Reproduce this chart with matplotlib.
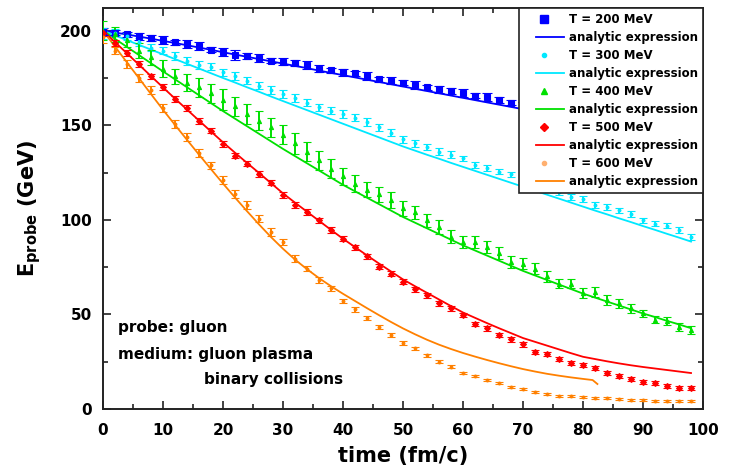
import matplotlib
matplotlib.use("Agg")
import matplotlib.pyplot as plt
from matplotlib.lines import Line2D
from matplotlib.legend_handler import HandlerLine2D
from matplotlib.ticker import MultipleLocator

plt.rcParams["font.family"] = ["DejaVu Sans"]
plt.rcParams["font.weight"] = "bold"
plt.rcParams["mathtext.default"] = "bf"

# simulation times (fm/c)
time = [0, 2, 4, 6, 8, 10, 12, 14, 16, 18, 20, 22, 24, 26, 28, 30, 32, 34, 36, 38,
        40, 42, 44, 46, 48, 50, 52, 54, 56, 58, 60, 62, 64, 66, 68, 70, 72, 74, 76, 78,
        80, 82, 84, 86, 88, 90, 92, 94, 96, 98]

temps = ["T = 200 MeV", "T = 300 MeV", "T = 400 MeV", "T = 500 MeV", "T = 600 MeV"]

# probe energy from the transport runs (GeV) and statistical errors
e_200 = [199.5, 199, 198, 197, 196, 195, 193.8, 193, 191.8, 190, 188.6, 187.2, 186.6, 185.6, 184.2,
         183.6, 183, 182, 180, 179, 178, 177.4, 176, 174.2, 173.6, 172.6, 171.4, 170, 169, 168,
         167, 165.7, 164.8, 163.4, 162, 160.8, 159.6, 158.4, 157.3, 156, 154.8, 153.5, 152.4,
         151.2, 150, 148.8, 147.6, 146.5, 145.3, 144.2]
err_200 = [2, 1.5, 1.5, 2, 1.5, 2, 1.5, 2, 2, 1.5, 2, 2.5, 1.5, 2, 1.5, 2, 1.5, 2, 2, 1.5,
           2, 1.5, 2, 1.5, 2, 1.5, 2, 1.5, 2, 1.5, 2, 1.5, 2, 1.5, 1.5, 1.5, 1.5, 1.5, 1.5, 1.5,
           1.5, 1.5, 1.5, 1.5, 1.5, 1.5, 1.5, 1.5, 1.5, 1.5]

e_300 = [198.5, 199, 197, 194, 191, 189.5, 186.5, 184, 182, 181, 178, 176, 173.6, 171, 168.7,
         166.6, 164.3, 162, 159.5, 157.8, 156, 154, 151.6, 149, 146, 142.5, 140.5, 138.5, 136,
         134.5, 132.5, 129, 127.5, 125.5, 124, 122, 119.5, 117, 114.5, 112, 111, 107.7, 106.8,
         105, 103, 99.7, 98, 97, 94.5, 90.8]
err_300 = [3, 2, 2, 2, 2, 2, 2, 2, 2, 2, 2, 2, 2, 2, 2, 2, 2, 2, 2, 2,
           2, 2, 2, 1.8, 1.8, 1.8, 1.8, 1.8, 1.8, 1.8, 1.5, 1.5, 1.5, 1.5, 1.5, 1.5, 1.5, 1.5,
           1.5, 1.5, 1.5, 1.5, 1.5, 1.5, 1.5, 1.5, 1.5, 1.5, 1.5, 1.5]

e_400 = [200, 198, 195, 189.5, 186, 180, 176, 172.5, 170, 167, 163.5, 160, 156, 152.5, 149,
         145, 140.5, 136, 131.5, 127, 123, 119, 116, 113.5, 110.5, 106, 104, 99.7, 96.2, 91,
         88.3, 88.3, 85.6, 82.5, 77.7, 76.9, 74.2, 70.2, 66.3, 66.3, 61.4, 61.9, 57.5, 55.8,
         53.2, 50.5, 47.3, 46.6, 43.4, 41.7]
err_400 = [5, 4, 3.5, 4, 4, 4.5, 4, 4.5, 5, 5, 5.5, 5, 5.5, 5, 5, 5, 5.5, 5, 5, 5,
           4.5, 4.5, 4, 4, 4, 4, 3.5, 3.5, 3.5, 3.5, 3, 3, 3, 3, 3, 3, 3, 3, 2.5, 2.5,
           2.5, 2.5, 2.5, 2.5, 2.5, 2, 2, 2, 2, 2]

e_500 = [199, 193.5, 188.3, 182.4, 175.8, 170.3, 164, 159.2, 152.1, 147.2, 140.2, 134, 129.7,
         124.4, 119.7, 113.2, 107.7, 104.1, 99.7, 94.5, 90.1, 85.6, 80.7, 75.3, 71.4, 67.3,
         63.2, 60.2, 55.8, 53.2, 49.6, 44.9, 42.6, 39, 36.8, 34.1, 30.2, 29, 26.4, 24.4, 23.2,
         21.5, 19.2, 17.4, 15.7, 14.4, 13.6, 12.1, 10.9, 10.9]
err_500 = [2, 1.5, 1.5, 1.5, 1.5, 1.5, 1.5, 1.5, 1.5, 1.5, 1.5, 1.5, 1.5, 1.5, 1.5, 1.5, 1.5,
           1.5, 1.5, 1.5, 1.3, 1.3, 1.3, 1.3, 1.3, 1.3, 1.3, 1.3, 1.3, 1.3, 1.2, 1.2, 1.2, 1.2,
           1.2, 1.2, 1.2, 1.2, 1.2, 1.2, 1, 1, 1, 1, 1, 1, 1, 1, 1, 1]

e_600 = [196.5, 189.5, 182.5, 175, 168.5, 159, 150.8, 143.7, 135.3, 128.8, 121, 113.8, 107.7,
         100.6, 93.6, 88.3, 79.5, 74.2, 68.1, 63.7, 57.2, 52.6, 47.9, 43.4, 39.1, 35, 32, 28.5,
         25, 22.3, 19.2, 17.4, 15.3, 13.9, 11.8, 10.4, 9.1, 7.8, 6.9, 6.9, 6.2, 5.6, 5.6, 5.3,
         4.7, 4.7, 4.4, 4.4, 4.2, 4.2]
err_600 = [3, 2, 2, 2, 2, 2, 2, 2, 2, 2, 2, 2, 2, 2, 2, 1.8, 1.8, 1.5, 1.5, 1.5,
           1.2, 1.2, 1, 1, 1, 1, 0.8, 0.8, 0.8, 0.8, 0.6, 0.6, 0.6, 0.6, 0.6, 0.5, 0.5, 0.5,
           0.5, 0.5, 0.5, 0.5, 0.5, 0.5, 0.5, 0.5, 0.5, 0.5, 0.5, 0.5]

# analytic expression evaluated on the same time grid
fit_200 = [200, 199, 198, 196.9, 195.8, 194.6, 193.5, 192.3, 191.1, 189.9, 188.6, 187.4, 186.2,
           185, 183.8, 182.6, 181.4, 180.2, 178.9, 177.7, 176.5, 175.3, 174.1, 172.9, 171.7,
           170.5, 169.3, 168.1, 166.9, 165.7, 164.5, 163.3, 162.1, 160.9, 159.7, 158.5, 157.3,
           156.1, 154.9, 153.7, 152.5, 151.3, 150.1, 148.9, 147.7, 146.6, 145.4, 144.2, 143, 141.8]
fit_300 = [200, 197.5, 195, 192.5, 190, 187.5, 185, 182.5, 180, 177.5, 175, 172.6, 170.1, 167.7,
           165.2, 162.8, 160.4, 158, 155.6, 153.2, 150.8, 148.4, 146, 143.6, 141.2, 138.8, 136.6,
           134.4, 132.3, 130.1, 128, 125.9, 123.8, 121.7, 119.6, 117.5, 115.4, 113.3, 111.2,
           109.1, 107, 104.9, 102.9, 100.8, 98.8, 96.7, 94.7, 92.6, 90.6, 88.5]
fit_400 = [200, 195.7, 191.4, 187.1, 182.8, 178.5, 174.3, 170.1, 165.9, 161.7, 157.5, 153.5,
           149.5, 145.5, 141.5, 137.5, 133.7, 129.9, 126.1, 122.3, 118.5, 115.1, 111.7, 108.3,
           104.9, 101.5, 98.5, 95.5, 92.5, 89.5, 86.5, 83.8, 81.1, 78.4, 75.7, 73, 70.6, 68.2,
           65.8, 63.4, 61, 58.9, 56.8, 54.7, 52.6, 50.5, 48.6, 46.6, 44.7, 42.7]
fit_500 = [200, 194, 188, 182, 176, 170, 164.1, 158.3, 152.5, 146.7, 141, 135.5, 130.1, 124.8,
           119.4, 114, 109.1, 104.3, 99.5, 94.7, 90, 85.6, 81.2, 76.9, 72.7, 68.5, 64.9, 61.4,
           57.9, 54.4, 51, 48.2, 45.4, 42.7, 40.1, 37.5, 35.5, 33.5, 31.5, 29.5, 27.6, 26.4,
           25.2, 24.1, 23.1, 22.2, 21.4, 20.6, 19.8, 19]
# the T = 600 MeV expression stops being valid near 82 fm/c
time_600_fit = [0, 2, 4, 6, 8, 10, 12, 14, 16, 18, 20, 22, 24, 26, 28, 30, 32, 34, 36, 38,
                40, 42, 44, 46, 48, 50, 52, 54, 56, 58, 60, 62, 64, 66, 68, 70, 72, 74, 76, 78,
                80, 81.6, 82.4]
fit_600 = [200, 191.6, 183.2, 174.9, 166.5, 158.2, 150.2, 142.3, 134.5, 126.8, 119.2, 111.8,
           104.6, 97.6, 90.9, 84.7, 79, 73.9, 69.2, 64.9, 60.9, 57.1, 53.3, 49.6, 46, 42.6,
           39.5, 36.6, 34, 31.7, 29.6, 27.7, 25.9, 24.2, 22.6, 21.1, 19.8, 18.6, 17.6, 16.7,
           15.9, 15.3, 13.2]

colors = ["#0000ff", "#00e8ff", "#00e000", "#ff0000", "#ff8000"]
legend_marker_colors = ["#0000ff", "#00e8ff", "#00e000", "#ff0000", "#ffb070"]
markers = ["s", "o", "^", "D", "o"]
marker_sizes = [5, 2, 3, 3, 2]
cap_sizes = [3.5, 3, 3, 3, 3]

data = [e_200, e_300, e_400, e_500, e_600]
errors = [err_200, err_300, err_400, err_500, err_600]
fit_times = [time, time, time, time, time_600_fit]
fits = [fit_200, fit_300, fit_400, fit_500, fit_600]


class PointHandler(HandlerLine2D):
    # point symbol sits at the left end of the legend sample
    def get_xdata(self, legend, xdescent, ydescent, width, height, fontsize):
        xdata = [-xdescent, -xdescent + width]
        return xdata, [-xdescent + 0.08 * width]


class SampleLineHandler(HandlerLine2D):
    # line sample occupies only the right part of the handle box
    def get_xdata(self, legend, xdescent, ydescent, width, height, fontsize):
        xdata = [-xdescent + 0.3 * width, -xdescent + width]
        return xdata, [-xdescent + 0.65 * width]


fig = plt.figure(figsize=(7.34, 4.76), dpi=100)
ax = fig.add_axes([0.1403, 0.1408, 0.8175, 0.8424])

for i in range(5):
    ax.errorbar(time, data[i], yerr=errors[i], fmt=markers[i], color=colors[i],
                markersize=marker_sizes[i], elinewidth=1.4, capsize=cap_sizes[i],
                capthick=1.4, markeredgewidth=0.8, zorder=3)
    ax.plot(fit_times[i], fits[i], color=colors[i], lw=1.3, zorder=2)

handles, labels, handler_map = [], [], {}
for i in range(5):
    point = Line2D([], [], ls="none", marker=markers[i], color=legend_marker_colors[i],
                   markersize=marker_sizes[i] + 1)
    handles.append(point)
    handler_map[point] = PointHandler()
    labels.append(temps[i])
    line = Line2D([], [], color=colors[i], lw=1.3)
    handles.append(line)
    handler_map[line] = SampleLineHandler()
    labels.append("analytic expression")

leg = ax.legend(handles, labels, handler_map=handler_map, loc="upper right",
                borderaxespad=0, fancybox=False, framealpha=1, edgecolor="#222222",
                fontsize=8.5, handlelength=3.4, handletextpad=0.4, labelspacing=0.42,
                borderpad=0.45, numpoints=1)
leg.get_frame().set_linewidth(1.2)
leg.set_zorder(5)

ax.set_xlim(0, 100)
ax.set_ylim(0, 212)
ax.xaxis.set_major_locator(MultipleLocator(10))
ax.xaxis.set_minor_locator(MultipleLocator(5))
ax.yaxis.set_major_locator(MultipleLocator(50))
ax.yaxis.set_minor_locator(MultipleLocator(25))
ax.tick_params(which="both", direction="in", top=True, right=True, width=1.2,
               colors="#222222", labelcolor="black")
ax.tick_params(which="major", length=6, labelsize=11, pad=8)
ax.tick_params(which="minor", length=3.5)
ax.tick_params(axis="x", which="major", pad=10)
for spine in ax.spines.values():
    spine.set_linewidth(1.4)
    spine.set_color("#222222")

ax.set_xlabel("time (fm/c)", fontsize=15, fontweight="bold", labelpad=6)
ax.set_ylabel(r"E$_{probe}$ (GeV)", fontsize=15, fontweight="bold", labelpad=12)

ax.text(2.5, 43, "probe: gluon", fontsize=11, fontweight="bold", va="center")
ax.text(2.5, 29, "medium: gluon plasma", fontsize=11, fontweight="bold", va="center")
ax.text(16.8, 15.4, "binary collisions", fontsize=11, fontweight="bold", va="center")

fig.savefig("out.png", dpi=100)
